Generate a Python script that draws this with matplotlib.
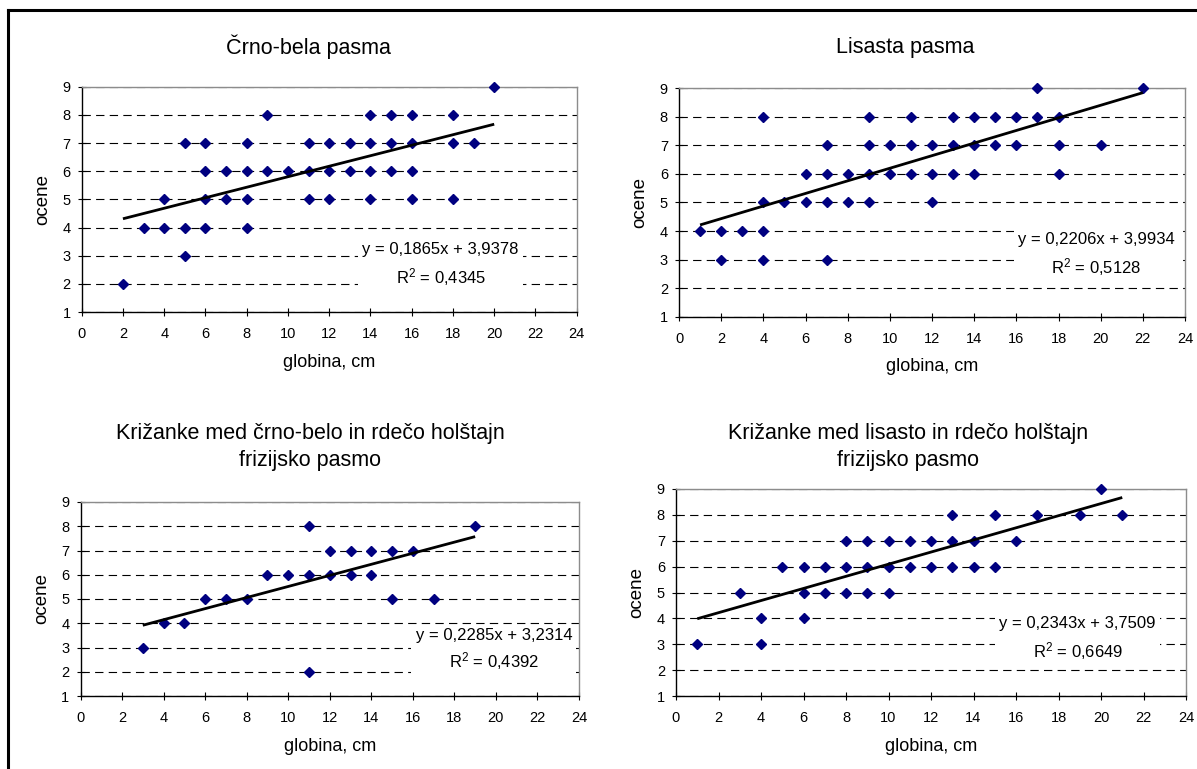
import matplotlib
matplotlib.use("Agg")
import matplotlib.pyplot as plt
from matplotlib.lines import Line2D
import numpy as np

plt.rcParams['font.family'] = ['Liberation Sans', 'DejaVu Sans']
plt.rcParams['lines.scale_dashes'] = False
plt.rcParams['mathtext.fontset'] = 'custom'
plt.rcParams['mathtext.rm'] = 'Liberation Sans'
plt.rcParams['mathtext.it'] = 'Liberation Sans:italic'
plt.rcParams['mathtext.default'] = 'regular'

# ---------------- data ----------------
titles = [
    "Črno-bela pasma",
    "Lisasta pasma",
    "Križanke med črno-belo in rdečo holštajn\nfrizijsko pasmo",
    "Križanke med lisasto in rdečo holštajn\nfrizijsko pasmo",
]
x_label = "globina, cm"
y_label = "ocene"

# Črno-bela pasma
x_cb = [20,
        9, 14, 15, 16, 18,
        5, 6, 8, 11, 12, 13, 14, 15, 16, 18, 19,
        6, 7, 8, 9, 10, 11, 12, 13, 14, 15, 16,
        4, 6, 7, 8, 11, 12, 14, 16, 18,
        3, 4, 5, 6, 8,
        5,
        2]
y_cb = [9,
        8, 8, 8, 8, 8,
        7, 7, 7, 7, 7, 7, 7, 7, 7, 7, 7,
        6, 6, 6, 6, 6, 6, 6, 6, 6, 6, 6,
        5, 5, 5, 5, 5, 5, 5, 5, 5,
        4, 4, 4, 4, 4,
        3,
        2]

# Lisasta pasma
x_lis = [17, 22,
         4, 9, 11, 13, 14, 15, 16, 17, 18,
         7, 9, 10, 11, 12, 13, 14, 15, 16, 18, 20,
         6, 7, 8, 9, 10, 11, 12, 13, 14, 18,
         4, 5, 6, 7, 8, 9, 12,
         1, 2, 3, 4,
         2, 4, 7]
y_lis = [9, 9,
         8, 8, 8, 8, 8, 8, 8, 8, 8,
         7, 7, 7, 7, 7, 7, 7, 7, 7, 7, 7,
         6, 6, 6, 6, 6, 6, 6, 6, 6, 6,
         5, 5, 5, 5, 5, 5, 5,
         4, 4, 4, 4,
         3, 3, 3]

# Križanke črno-bela x RH
x_kcb = [11, 19,
         12, 13, 14, 15, 16,
         9, 10, 11, 12, 13, 14,
         6, 7, 8, 15, 17,
         4, 5,
         3,
         11]
y_kcb = [8, 8,
         7, 7, 7, 7, 7,
         6, 6, 6, 6, 6, 6,
         5, 5, 5, 5, 5,
         4, 4,
         3,
         2]

# Križanke lisasta x RH
x_kl = [20,
        13, 15, 17, 19, 21,
        8, 9, 10, 11, 12, 13, 14, 16,
        5, 6, 7, 8, 9, 10, 11, 12, 13, 14, 15,
        3, 6, 7, 8, 9, 10,
        4, 6,
        1, 4]
y_kl = [9,
        8, 8, 8, 8, 8,
        7, 7, 7, 7, 7, 7, 7, 7,
        6, 6, 6, 6, 6, 6, 6, 6, 6, 6, 6,
        5, 5, 5, 5, 5, 5,
        4, 4,
        3, 3]

slopes = [0.1865, 0.2206, 0.2285, 0.2343]
intercepts = [3.9378, 3.9934, 3.2314, 3.7509]
r2_values = [0.4345, 0.5128, 0.4392, 0.6649]

x_ticks = list(range(0, 25, 2))
y_ticks = list(range(1, 10))

series = [(x_cb, y_cb), (x_lis, y_lis), (x_kcb, y_kcb), (x_kl, y_kl)]

# ---------------- layout ----------------
W, H = 1197, 769
fig = plt.figure(figsize=(W / 100, H / 100), dpi=100)

# axes rectangles in pixels: left, top, right, bottom
rects_px = [
    (81.7, 86.7, 576.7, 312.0),
    (679.0, 88.3, 1185.0, 316.7),
    (80.5, 502.0, 579.0, 696.0),
    (676.0, 489.0, 1186.0, 696.0),
]
title_pos_px = [(308, 47), (905, 47), (310, 447), (908, 447)]
eq_pos = [(17.4, 2.68), (19.8, 3.17), (19.9, 2.9), (18.9, 3.2)]
eq_spacing = [1.52, 1.52, 1.42, 1.5]

def fmt(v):
    return ("%.4f" % v).replace(".", ",")

navy = "#000080"
for i, (xs, ys) in enumerate(series):
    l, t, r, b = rects_px[i]
    ax = fig.add_axes([l / W, 1 - b / H, (r - l) / W, (b - t) / H])
    ax.set_xlim(0, 24)
    ax.set_ylim(1, 9)
    ax.set_xticks(x_ticks)
    ax.set_yticks(y_ticks)
    ax.tick_params(direction='inout', length=6, width=0.8, labelsize=10.5,
                   colors='black')
    ax.tick_params(axis='x', pad=8)
    ax.tick_params(axis='y', pad=5)
    for s in ('left', 'bottom'):
        ax.spines[s].set_color('black')
        ax.spines[s].set_linewidth(1.0)
    for s in ('top', 'right'):
        ax.spines[s].set_color('#8c8c8c')
        ax.spines[s].set_linewidth(1.0)
    ax.set_axisbelow(True)
    ax.yaxis.grid(True, color='black', linewidth=0.8, dashes=(6, 3.8))
    ax.xaxis.grid(False)
    for tk in ax.yaxis.get_major_ticks():
        if tk.get_loc() in (y_ticks[0], y_ticks[-1]):
            tk.gridline.set_visible(False)

    ax.set_xlabel(x_label, fontsize=13, labelpad=9)
    ax.set_ylabel(y_label, fontsize=13.5, labelpad=8)

    # scatter
    ax.plot(xs, ys, linestyle='none', marker='D', markersize=5.4,
            color=navy, markeredgecolor=navy, zorder=5, clip_on=False)
    # trend line
    xx = np.array([min(xs), max(xs)], dtype=float)
    ax.plot(xx, slopes[i] * xx + intercepts[i], color='black', lw=2.0,
            zorder=6, solid_capstyle='butt')
    # equation text
    ex, ey = eq_pos[i]
    ax.text(ex, ey, "y = %sx + %s\nR$^{2}$ = %s" % (fmt(slopes[i]), fmt(intercepts[i]), fmt(r2_values[i])),
            ha='center', va='center', fontsize=12, linespacing=eq_spacing[i],
            multialignment='center', zorder=4,
            bbox=dict(facecolor='white', edgecolor='none', pad=3))

    tx, ty = title_pos_px[i]
    fig.text(tx / W, 1 - ty / H, titles[i], ha='center', va='center',
             fontsize=15.5, linespacing=1.32)

# outer border (left and top)
fig.add_artist(Line2D([7.5 / W, 7.5 / W], [0, 1 - 9.5 / H], color='black', lw=2.2))
fig.add_artist(Line2D([7.5 / W, 1], [1 - 9.5 / H, 1 - 9.5 / H], color='black', lw=2.2))

fig.savefig("out.png", dpi=100, facecolor='white')
